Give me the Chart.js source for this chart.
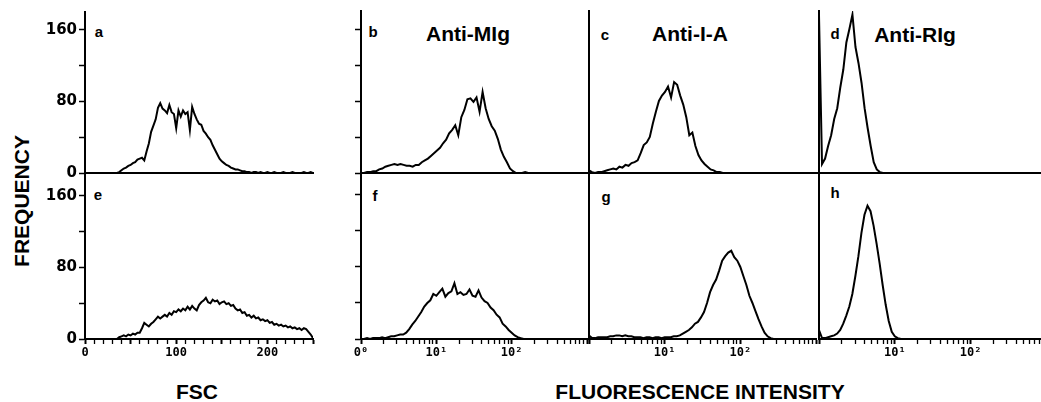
<!DOCTYPE html>
<html><head><meta charset="utf-8">
<script src="https://cdn.jsdelivr.net/npm/chart.js@4/dist/chart.umd.min.js"></script>
<style>
html,body{margin:0;padding:0;background:#fff;overflow:hidden;width:1041px;height:402px;position:relative;}
canvas{position:absolute;}
.t{position:absolute;font-family:"Liberation Sans",Arial,sans-serif;font-weight:bold;color:#000;white-space:nowrap;line-height:1;transform:translate(-50%,-50%);}
</style></head><body>
<div class="t" style="left:21px;top:201px;font-size:21px;transform:translate(-50%,-50%) rotate(-90deg)">FREQUENCY</div>
<div class="t" style="left:197px;top:391px;font-size:21px">FSC</div>
<div class="t" style="left:700px;top:391px;font-size:21px">FLUORESCENCE INTENSITY</div>
<div class="t" style="left:99px;top:31px;font-size:15px">a</div>
<div class="t" style="left:98px;top:194px;font-size:15px">e</div>
<div class="t" style="left:373px;top:31px;font-size:15px">b</div>
<div class="t" style="left:375px;top:195px;font-size:15px">f</div>
<div class="t" style="left:605px;top:34px;font-size:15px">c</div>
<div class="t" style="left:606px;top:196px;font-size:15px">g</div>
<div class="t" style="left:835px;top:33px;font-size:15px">d</div>
<div class="t" style="left:835px;top:192px;font-size:15px">h</div>
<div class="t" style="left:468px;top:33px;font-size:21px">Anti-MIg</div>
<div class="t" style="left:690px;top:33px;font-size:21px">Anti-I-A</div>
<div class="t" style="left:915px;top:34px;font-size:21px">Anti-RIg</div>
<script>
// ---- channels / bins ----
const FSC_CH = [0,2.5,5,7.5,10,12.5,15,17.5,20,22.5,
25,27.5,30,32.5,35,37.5,40,42.5,45,47.5,
50,52.5,55,57.5,60,62.5,65,67.5,70,72.5,
75,77.5,80,82.5,85,87.5,90,92.5,95,97.5,
100,102.5,105,107.5,110,112.5,115,117.5,120,122.5,
125,127.5,130,132.5,135,137.5,140,142.5,145,147.5,
150,152.5,155,157.5,160,162.5,165,167.5,170,172.5,
175,177.5,180,182.5,185,187.5,190,192.5,195,197.5,
200,202.5,205,207.5,210,212.5,215,217.5,220,222.5,
225,227.5,230,232.5,235,237.5,240,242.5,245,247.5,
250];
const LOG_CH = [1,1.096,1.202,1.318,1.445,1.585,1.738,1.905,2.089,2.291,
2.512,2.754,3.02,3.311,3.631,3.981,4.365,4.786,5.248,5.754,
6.31,6.918,7.586,8.318,9.12,10,10.96,12.02,13.18,14.45,
15.85,17.38,19.05,20.89,22.91,25.12,27.54,30.2,33.11,36.31,
39.81,43.65,47.86,52.48,57.54,63.1,69.18,75.86,83.18,91.2,
100,109.6,120.2,131.8,144.5,158.5,173.8,190.5,208.9,229.1,
251.2,275.4,302,331.1,363.1,398.1,436.5,478.6,524.8,575.4,
631,691.8,758.6,831.8,912,1000];

// ---- series (frequency) ----
const fscA = [0,0,0,0,0,0,0,0,0,0,0,0,0,0,0,
1,3,5,6,8,9,11,12,15,16,
17,14,24,33,46,53,60,73,78,72,
70,67,76,68,66,50,70,63,70,66,
68,48,74,66,60,55,54,47,44,40,
37,31,26,21,16,13,11,9,8,6,
5,4,4,3,2,2,1,1,0,1,
1,0,1,0,0,1,0,0,1,0,
0,0,1,0,0,0,1,0,0,0,
0,1,0,0,1,0];
const fscE = [0,0,0,0,0,0,0,0,0,0,0,0,0,0,0,
2,3,4,3,5,4,6,5,7,7,
12,18,16,14,17,19,22,25,23,25,
27,25,29,27,31,30,33,31,34,32,
36,33,37,34,32,38,41,43,46,41,
40,44,42,43,39,41,42,39,40,37,
38,34,32,33,29,30,26,27,24,26,
23,24,21,22,20,21,18,19,16,17,
15,16,14,15,13,14,12,13,11,12,
10,12,11,8,5,1];
const antiMIgB = [0,0,1,1,2,2,4,5,7,8,
9,10,9,10,9,8,8,7,9,9,
12,14,16,19,22,25,28,33,37,44,
48,53,42,62,70,82,83,79,84,68,
90,72,60,52,47,38,26,18,12,5,
2,0,0,0,1,0,0,0,0,0,
0,0,0,0,0,0,0,0,0,0,
0,0,0,0,0,0];
const antiIAC = [3,1,0,1,1,2,3,4,5,4,
7,6,9,8,11,12,14,22,31,34,
40,55,68,80,86,90,96,84,101,98,
86,76,62,42,45,30,20,14,10,7,
4,3,1,1,0,0,0,0,0,0,
0,0,0,0,0,0,0,0,0,0,
0,0,0,0,0,0,0,0,0,0,
0,0,0,0,0,0];
const antiRIgD = [175,10,16,30,42,60,72,95,115,145,
160,176,140,122,100,72,50,30,12,4,
1,0,0,0,0,0,0,0,0,0,
0,0,0,0,0,0,0,0,0,0,
0,0,0,0,0,0,0,0,0,0,
0,0,0,0,0,0,0,0,0,0,
0,0,0,0,0,0,0,0,0,0,
0,0,0,0,0,0];
const ctrlF = [0,0,1,0,1,1,1,2,1,2,
3,3,4,5,5,7,11,16,20,25,
30,36,40,43,50,48,52,56,47,51,
53,62,50,52,49,50,55,48,47,54,
46,42,40,35,32,27,24,17,14,10,
7,4,2,1,0,0,0,0,0,0,
0,0,0,0,0,0,0,0,0,0,
0,0,0,0,0,0];
const ctrlG = [4,1,1,2,2,2,2,3,3,4,
4,3,4,3,3,2,2,2,1,2,
2,1,2,2,1,2,2,2,3,3,
4,6,8,10,13,17,19,24,30,40,
52,60,66,76,87,92,96,98,91,87,
80,70,60,48,40,31,22,14,7,3,
1,0,0,0,0,0,0,0,0,0,
0,0,0,0,0,0];
const ctrlH = [10,1,1,2,3,4,6,10,17,26,
36,50,70,92,118,138,148,142,126,106,
84,60,38,20,8,3,1,0,0,0,
0,0,0,0,0,0,0,0,0,0,
0,0,0,0,0,0,0,0,0,0,
0,0,0,0,0,0,0,0,0,0,
0,0,0,0,0,0,0,0,0,0,
0,0,0,0,0,0];

// ---- ticks ----
const yTicks = [0,40,80,120,160];
const yLabelVals = [0,80,160];
const fscTicks = [0,10,20,30,40,50,60,70,80,90,100,110,120,130,140,150,160,170,180,190,200,210,220,230,240,250];
const fscLabelVals = [0,100,200];
const logTicks = [1,2,3,4,5,6,7,8,9,10,20,30,40,50,60,70,80,90,100,200,300,400,500,600,700,800,900,1000];
const logLabelVals = [1,10,100];
const logLabelText = ['0\u2070','10\u00b9','10\u00b2'];

Chart.defaults.color = '#000';

function makePanel(p) {
  const PT = 10, PR = p.pr, YW = p.yw, XH = p.xh;
  const w = (p.R - p.L) + YW + PR, h = (p.B - p.T) + PT + XH;
  const c = document.createElement('canvas');
  c.width = w; c.height = h;
  c.style.left = (p.L - YW) + 'px'; c.style.top = (p.T - PT) + 'px';
  c.style.width = w + 'px'; c.style.height = h + 'px';
  document.body.appendChild(c);
  const pts = p.xs.map((x, i) => ({x: x, y: p.ys[i]}));
  const xIsLog = p.xType === 'logarithmic';
  const xTickVals = (xIsLog ? logTicks : fscTicks).filter(v => v <= p.xMax + 1e-9);
  new Chart(c, {
    type: 'line',
    data: {datasets: [{data: pts, borderColor: '#000', borderWidth: 2, pointRadius: 0, tension: 0, fill: false}]},
    options: {
      responsive: false, animation: false, devicePixelRatio: 1, events: [],
      layout: {padding: {top: PT, right: PR, left: 0, bottom: 0}},
      plugins: {legend: {display: false}, tooltip: {enabled: false}},
      scales: {
        x: {
          type: p.xType, min: p.xMin, max: p.xMax,
          afterBuildTicks: s => { s.ticks = xTickVals.map(v => ({value: v})); },
          afterFit: s => { s.height = XH; },
          grid: {display: p.xTicks, drawOnChartArea: false, drawTicks: p.xTicks, tickLength: 5, tickColor: '#000',
                 tickWidth: ctx => (ctx.tick && (xIsLog ? [1,10,100,1000] : [0,50,100,150,200,250]).includes(ctx.tick.value)) ? 2 : 1.3},
          border: {display: true, color: '#000', width: 2},
          ticks: {display: p.xLabels, autoSkip: false, maxRotation: 0, minRotation: 0, padding: 2, color: '#000',
                  font: {family: 'DejaVu Sans Mono', weight: 'bold', size: 12},
                  callback: v => {
                    if (xIsLog) { const k = logLabelVals.indexOf(v); return (k >= 0 && (v !== 1 || p.firstLabel)) ? logLabelText[k] : ''; }
                    return fscLabelVals.includes(v) ? String(v) : '';
                  }}
        },
        y: {
          type: 'linear', min: 0, max: p.yMax,
          afterBuildTicks: s => { s.ticks = yTicks.map(v => ({value: v})); },
          afterFit: s => { s.width = YW; },
          grid: {display: p.yTicks, drawOnChartArea: false, drawTicks: p.yTicks, tickLength: 6, tickColor: '#000', tickWidth: 1.5},
          border: {display: true, color: '#000', width: 2},
          ticks: {display: p.yLabels, padding: 2, color: '#000',
                  font: {family: 'DejaVu Sans', weight: 'bold', size: 15},
                  callback: v => yLabelVals.includes(v) ? String(v) : ''}
        }
      }
    }
  });
}

const R0 = {T: 11, B: 173, yMax: 180};
const R1 = {T: 174, B: 339, yMax: 183.3};
const C0 = {L: 85, R: 313};
const C1 = {L: 361, R: 589};
const C2 = {L: 589, R: 818};
const C3 = {L: 819, R: 1041};
const xMaxOf = c => Math.pow(10, (c.R - c.L) / 76);

// top row
makePanel({...C0, ...R0, xType: 'linear', xMin: 0, xMax: 250, xs: FSC_CH, ys: fscA, yw: 80, pr: 4, xh: 12, xTicks: false, xLabels: false, yTicks: true, yLabels: true});
makePanel({...C1, ...R0, xType: 'logarithmic', xMin: 1, xMax: 1000, xs: LOG_CH, ys: antiMIgB, yw: 14, pr: 0, xh: 2, xTicks: false, xLabels: false, yTicks: true, yLabels: false});
makePanel({...C2, ...R0, xType: 'logarithmic', xMin: 1, xMax: xMaxOf(C2), xs: LOG_CH, ys: antiIAC, yw: 14, pr: 0, xh: 2, xTicks: false, xLabels: false, yTicks: false, yLabels: false});
makePanel({...C3, ...R0, xType: 'logarithmic', xMin: 1, xMax: xMaxOf(C3), xs: LOG_CH, ys: antiRIgD, yw: 14, pr: 0, xh: 2, xTicks: false, xLabels: false, yTicks: false, yLabels: false});
// bottom row
makePanel({...C0, ...R1, xType: 'linear', xMin: 0, xMax: 250, xs: FSC_CH, ys: fscE, yw: 80, pr: 4, xh: 30, xTicks: true, xLabels: true, yTicks: true, yLabels: true});
makePanel({...C1, ...R1, xType: 'logarithmic', xMin: 1, xMax: 1000, xs: LOG_CH, ys: ctrlF, yw: 14, pr: 0, xh: 30, xTicks: true, xLabels: true, firstLabel: true, yTicks: true, yLabels: false});
makePanel({...C2, ...R1, xType: 'logarithmic', xMin: 1, xMax: xMaxOf(C2), xs: LOG_CH, ys: ctrlG, yw: 14, pr: 0, xh: 30, xTicks: true, xLabels: true, yTicks: false, yLabels: false});
makePanel({...C3, ...R1, xType: 'logarithmic', xMin: 1, xMax: xMaxOf(C3), xs: LOG_CH, ys: ctrlH, yw: 14, pr: 0, xh: 30, xTicks: true, xLabels: true, yTicks: false, yLabels: false});
</script>
</body></html>
